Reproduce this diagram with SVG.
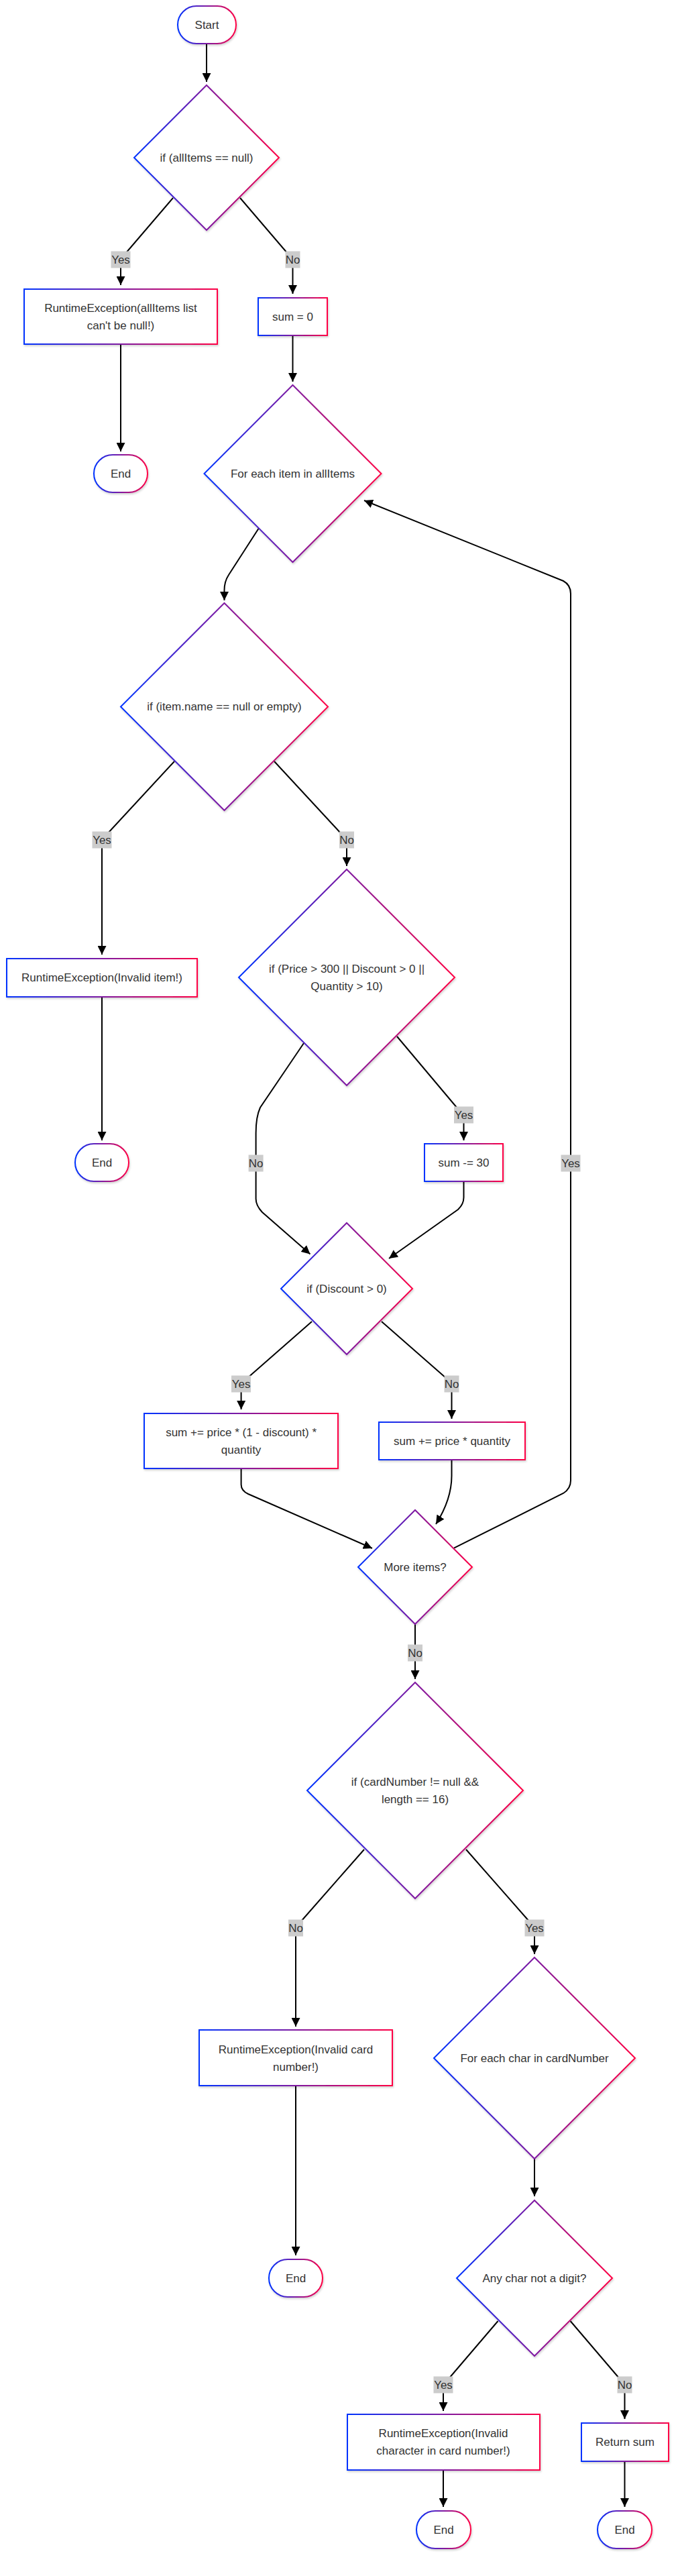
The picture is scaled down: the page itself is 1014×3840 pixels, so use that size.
<svg xmlns="http://www.w3.org/2000/svg" width="1014" height="3840" viewBox="0 0 1014 3840">
<defs>
<linearGradient id="g" x1="0" y1="0" x2="1" y2="0">
<stop offset="0" stop-color="#0033ff"/>
<stop offset="1" stop-color="#ff0044"/>
</linearGradient>
<filter id="sh" x="-10%" y="-10%" width="120%" height="130%">
<feDropShadow dx="1" dy="2" stdDeviation="1.5" flood-color="#000" flood-opacity="0.18"/>
</filter>
<marker id="ah" viewBox="0 0 10 10" refX="10" refY="5" markerUnits="userSpaceOnUse" markerWidth="13" markerHeight="13" orient="auto">
<path d="M0,0 L10,5 L0,10 z" fill="#000"/>
</marker>
<style>
.n{fill:#fff;stroke:url(#g);stroke-width:2;filter:url(#sh)}
.t{font-family:"Liberation Sans",Arial,sans-serif;font-size:17px;fill:#333;text-anchor:middle;dominant-baseline:central}
.e{fill:none;stroke:#000;stroke-width:2;marker-end:url(#ah)}
.lb{fill:#cccccc}
</style>
</defs>
<rect width="1014" height="3840" fill="#fff"/>
<g id="edges">
<path class="e" d="M308,65 L308,122"/>
<path class="e" d="M258,295 L187,378 Q180,386 180,396 L180,425"/>
<path class="e" d="M358,295 L429,378 Q436.5,386 436.5,396 L436.5,438"/>
<path class="e" d="M180,513 L180,673"/>
<path class="e" d="M436.5,500 L436.5,569"/>
<path class="e" d="M385.5,788 L341,857 Q334.5,867 334.5,880 L334.5,895"/>
<path class="e" d="M260,1135 L160,1243 Q152,1252 152,1262 L152,1423"/>
<path class="e" d="M409,1135 L509,1243 Q517,1252 517,1262 L517,1291"/>
<path class="e" d="M152,1486 L152,1700"/>
<path class="e" d="M592,1545 L682,1652 Q691.5,1662 691.5,1672 L691.5,1700"/>
<path class="e" d="M453,1555 L388,1651 Q381.6,1665 381.6,1689 L381.6,1787 Q381.6,1797 391,1807 L462.5,1869.5"/>
<path class="e" d="M691.5,1762 L691.5,1785 Q691.5,1795 683,1803 L580,1876"/>
<path class="e" d="M465,1970 L368,2055 Q359.6,2063 359.6,2075 L359.6,2101"/>
<path class="e" d="M569,1970 L666,2055 Q673.5,2063 673.5,2075 L673.5,2115"/>
<path class="e" d="M359.6,2189 L359.6,2213 Q359.6,2222 370,2227 L555,2308"/>
<path class="e" d="M673.5,2176 L673.5,2200 Q673.5,2235 650,2272"/>
<path class="e" d="M677,2307.6 L840,2226 Q851,2219 851,2207 L851,885 Q851,872 840,866 L543,746"/>
<path class="e" d="M619,2421 L619,2503"/>
<path class="e" d="M543,2757 L449,2864 Q441,2874 441,2886 L441,3021"/>
<path class="e" d="M695,2757 L789,2864 Q797,2874 797,2886 L797,2913"/>
<path class="e" d="M441,3109 L441,3362"/>
<path class="e" d="M797,3218 L797,3274"/>
<path class="e" d="M742.5,3460 L669,3546 Q661,3555 661,3567 L661,3594"/>
<path class="e" d="M850.6,3460 L924,3546 Q931.5,3555 931.5,3567 L931.5,3606"/>
<path class="e" d="M661,3682 L661,3737"/>
<path class="e" d="M931.5,3669 L931.5,3737"/>
</g>
<g id="edge-labels">
<rect class="lb" x="165.5" y="374.5" width="29" height="25"/><text class="t" x="180" y="387">Yes</text>
<rect class="lb" x="425.5" y="374.5" width="22" height="25"/><text class="t" x="436.5" y="387">No</text>
<rect class="lb" x="137.5" y="1239.5" width="29" height="25"/><text class="t" x="152" y="1252">Yes</text>
<rect class="lb" x="506" y="1239.5" width="22" height="25"/><text class="t" x="517" y="1252">No</text>
<rect class="lb" x="677" y="1649.5" width="29" height="25"/><text class="t" x="691.5" y="1662">Yes</text>
<rect class="lb" x="370.6" y="1721.5" width="22" height="25"/><text class="t" x="381.6" y="1734">No</text>
<rect class="lb" x="836.5" y="1721.5" width="29" height="25"/><text class="t" x="851" y="1734">Yes</text>
<rect class="lb" x="345" y="2050.5" width="29" height="25"/><text class="t" x="359.6" y="2063">Yes</text>
<rect class="lb" x="662.5" y="2050.5" width="22" height="25"/><text class="t" x="673.5" y="2063">No</text>
<rect class="lb" x="608" y="2451.5" width="22" height="25"/><text class="t" x="619" y="2464">No</text>
<rect class="lb" x="430" y="2861.5" width="22" height="25"/><text class="t" x="441" y="2874">No</text>
<rect class="lb" x="782.5" y="2861.5" width="29" height="25"/><text class="t" x="797" y="2874">Yes</text>
<rect class="lb" x="646.5" y="3542.5" width="29" height="25"/><text class="t" x="661" y="3555">Yes</text>
<rect class="lb" x="920.5" y="3542.5" width="22" height="25"/><text class="t" x="931.5" y="3555">No</text>
</g>
<g id="start"><rect class="n" x="265" y="9" width="87" height="56" rx="28"/><text class="t" x="308.5" y="37">Start</text></g>
<g id="d1"><polygon class="n" points="308,127 416,235 308,343 200,235"/><text class="t" x="308" y="235">if (allItems == null)</text></g>
<g id="r1"><rect class="n" x="36" y="431" width="288" height="82"/><text class="t" x="180" y="459">RuntimeException(allItems list</text><text class="t" x="180" y="485">can't be null!)</text></g>
<g id="s0"><rect class="n" x="385" y="444" width="103" height="56"/><text class="t" x="436.5" y="472">sum = 0</text></g>
<g id="end1"><rect class="n" x="140" y="678" width="80" height="56" rx="28"/><text class="t" x="180" y="706">End</text></g>
<g id="d2"><polygon class="n" points="436.5,574 568.5,706 436.5,838 304.5,706"/><text class="t" x="436.5" y="706">For each item in allItems</text></g>
<g id="d3"><polygon class="n" points="334.5,899 489,1053.5 334.5,1208 180,1053.5"/><text class="t" x="334.5" y="1053.5">if (item.name == null or empty)</text></g>
<g id="r2"><rect class="n" x="10" y="1429" width="284" height="57"/><text class="t" x="152" y="1457.5">RuntimeException(Invalid item!)</text></g>
<g id="end2"><rect class="n" x="112" y="1705" width="80" height="56" rx="28"/><text class="t" x="152" y="1733">End</text></g>
<g id="d4"><polygon class="n" points="517,1296 678,1457 517,1618 356,1457"/><text class="t" x="517" y="1444">if (Price &gt; 300 || Discount &gt; 0 ||</text><text class="t" x="517" y="1470">Quantity &gt; 10)</text></g>
<g id="s30"><rect class="n" x="633" y="1705" width="117" height="56"/><text class="t" x="691.5" y="1733">sum -= 30</text></g>
<g id="d5"><polygon class="n" points="517,1823 615,1921 517,2019 419,1921"/><text class="t" x="517" y="1921">if (Discount &gt; 0)</text></g>
<g id="b1"><rect class="n" x="215" y="2107" width="289" height="82"/><text class="t" x="359.6" y="2135">sum += price * (1 - discount) *</text><text class="t" x="359.6" y="2161">quantity</text></g>
<g id="b2"><rect class="n" x="565" y="2120" width="218" height="56"/><text class="t" x="674" y="2148">sum += price * quantity</text></g>
<g id="d6"><polygon class="n" points="619,2251 704,2336 619,2421 534,2336"/><text class="t" x="619" y="2336">More items?</text></g>
<g id="d7"><polygon class="n" points="619,2508 780,2669 619,2830 458,2669"/><text class="t" x="619" y="2656">if (cardNumber != null &amp;&amp;</text><text class="t" x="619" y="2682">length == 16)</text></g>
<g id="r3"><rect class="n" x="297" y="3026" width="288" height="83"/><text class="t" x="441" y="3055">RuntimeException(Invalid card</text><text class="t" x="441" y="3081">number!)</text></g>
<g id="d8"><polygon class="n" points="797,2918 947,3068 797,3218 647,3068"/><text class="t" x="797" y="3068">For each char in cardNumber</text></g>
<g id="end3"><rect class="n" x="401" y="3368" width="80" height="56" rx="28"/><text class="t" x="441" y="3396">End</text></g>
<g id="d9"><polygon class="n" points="797,3280 913,3396 797,3512 681,3396"/><text class="t" x="797" y="3396">Any char not a digit?</text></g>
<g id="r4"><rect class="n" x="518" y="3599" width="287" height="83"/><text class="t" x="661" y="3627">RuntimeException(Invalid</text><text class="t" x="661" y="3653">character in card number!)</text></g>
<g id="rs"><rect class="n" x="867" y="3612" width="130" height="57"/><text class="t" x="932" y="3640.5">Return sum</text></g>
<g id="end4"><rect class="n" x="621" y="3743" width="81" height="56" rx="28"/><text class="t" x="661.5" y="3771">End</text></g>
<g id="end5"><rect class="n" x="891" y="3743" width="81" height="56" rx="28"/><text class="t" x="931.5" y="3771">End</text></g>
</svg>
